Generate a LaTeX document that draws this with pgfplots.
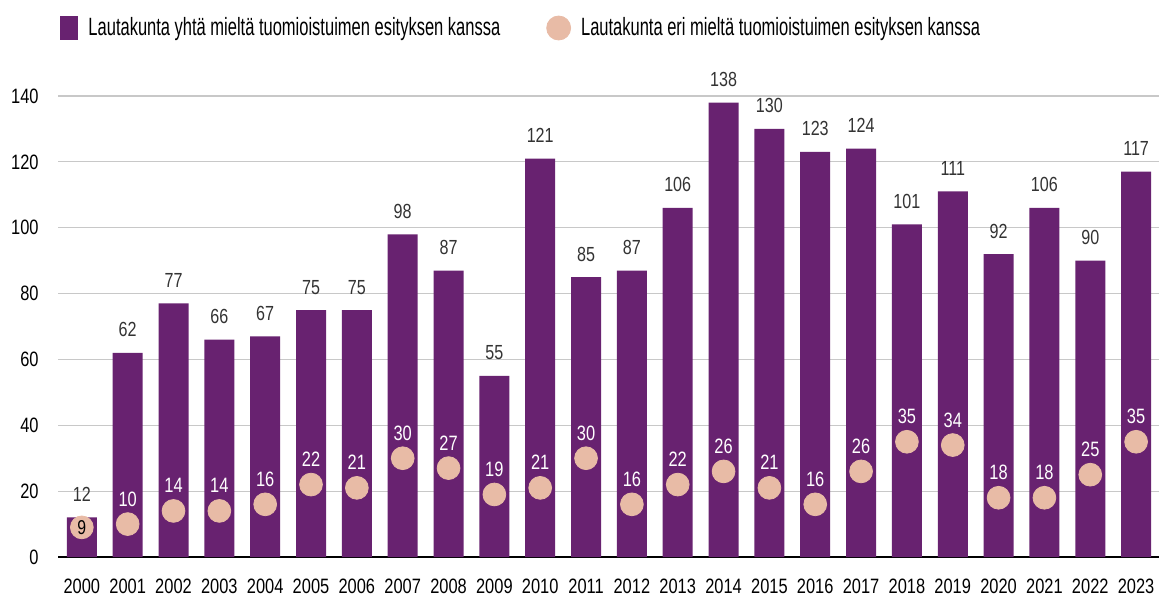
\documentclass[border=0pt]{standalone}
\usepackage{fontspec}
\setmainfont{Liberation Sans}[FakeStretch=0.79]
\newfontfamily\legfont{Liberation Sans}[FakeStretch=0.66]
\usepackage{pgfplots}
\pgfplotsset{compat=1.18}
\usepackage{pgfplotstable}
\definecolor{purp}{HTML}{682270}
\definecolor{peach}{HTML}{E8BBA6}
\definecolor{lbl}{HTML}{333333}
\definecolor{gridc}{HTML}{C8C8C8}

\pgfplotstableread{
x y
0 12
1 62
2 77
3 66
4 67
5 75
6 75
7 98
8 87
9 55
10 121
11 85
12 87
13 106
14 138
15 130
16 123
17 124
18 101
19 111
20 92
21 106
22 90
23 117
}\agree

\pgfplotstableread{
x y
0 9
}\disfirst

\pgfplotstableread{
x y
1 10
2 14
3 14
4 16
5 22
6 21
7 30
8 27
9 19
10 21
11 30
12 16
13 22
14 26
15 21
16 16
17 26
18 35
19 34
20 18
21 18
22 25
23 35
}\disrest

\begin{document}
\begin{tikzpicture}
\useasboundingbox (0,0) rectangle (579.5pt,298pt);
\begin{axis}[
  at={(29pt,19.5pt)}, anchor=south west,
  scale only axis,
  width=550.5pt, height=230.5pt,
  xmin=-0.52, xmax=23.5,
  ymin=0, ymax=140,
  clip=false,
  axis lines*=left,
  x axis line style={black, line width=1.1pt, -},
  y axis line style={draw=none, -},
  ymajorgrids,
  grid style={gridc, line width=0.6pt},
  major tick length=0pt,
  ytick={0,20,...,140},
  xtick={0,...,23},
  xticklabels={2000,2001,2002,2003,2004,2005,2006,2007,2008,2009,2010,2011,2012,2013,2014,2015,2016,2017,2018,2019,2020,2021,2022,2023},
  /pgf/number format/assume math mode=true,
  ticklabel style={font=\fontsize{10.4}{12}\selectfont, text=black},
  yticklabel style={anchor=east, inner sep=0pt, xshift=-9.5pt},
  xticklabel style={anchor=base, inner sep=0pt, yshift=-18pt},
  legend style={at={(0.0018,1.1475)}, anchor=west, draw=none, fill=none,
    inner sep=0pt, outer sep=0pt,
    font=\legfont\fontsize{12.5}{14}\selectfont,
    nodes={inner sep=0pt},
    /tikz/every odd column/.append style={column sep=5pt},
    /tikz/every even column/.append style={column sep=23pt}},
  legend columns=2,
  legend cell align=left,
]
\addplot[ybar, bar width=15pt, bar shift=0pt, fill=purp, draw=none,
  nodes near coords,
  every node near coord/.append style={font=\fontsize{10.2}{12}\selectfont, text=lbl, anchor=base, yshift=8pt, inner sep=0pt},
  legend image code/.code={\fill[purp] (0pt,-6pt) rectangle (9.25pt,6pt);}
] table[x=x,y=y] {\agree};
\addlegendentry{Lautakunta yhtä mieltä tuomioistuimen esityksen kanssa}

\addplot[only marks, color=peach, mark=*, mark size=5.7pt, mark options={fill=peach, draw=peach},
  nodes near coords,
  every node near coord/.append style={font=\fontsize{10.4}{12}\selectfont, text=white, anchor=base, yshift=9pt, inner sep=0pt},
  legend image code/.code={\fill[peach] (6pt,0pt) circle (6pt);}
] table[x=x,y=y] {\disrest};
\addlegendentry{Lautakunta eri mieltä tuomioistuimen esityksen kanssa}

\addplot[only marks, color=peach, mark=*, mark size=5.7pt, mark options={fill=peach, draw=peach},
  nodes near coords, forget plot,
  every node near coord/.append style={font=\fontsize{10}{11}\selectfont, text=black, anchor=center, inner sep=0pt}
] table[x=x,y=y] {\disfirst};
\end{axis}
\end{tikzpicture}
\end{document}
